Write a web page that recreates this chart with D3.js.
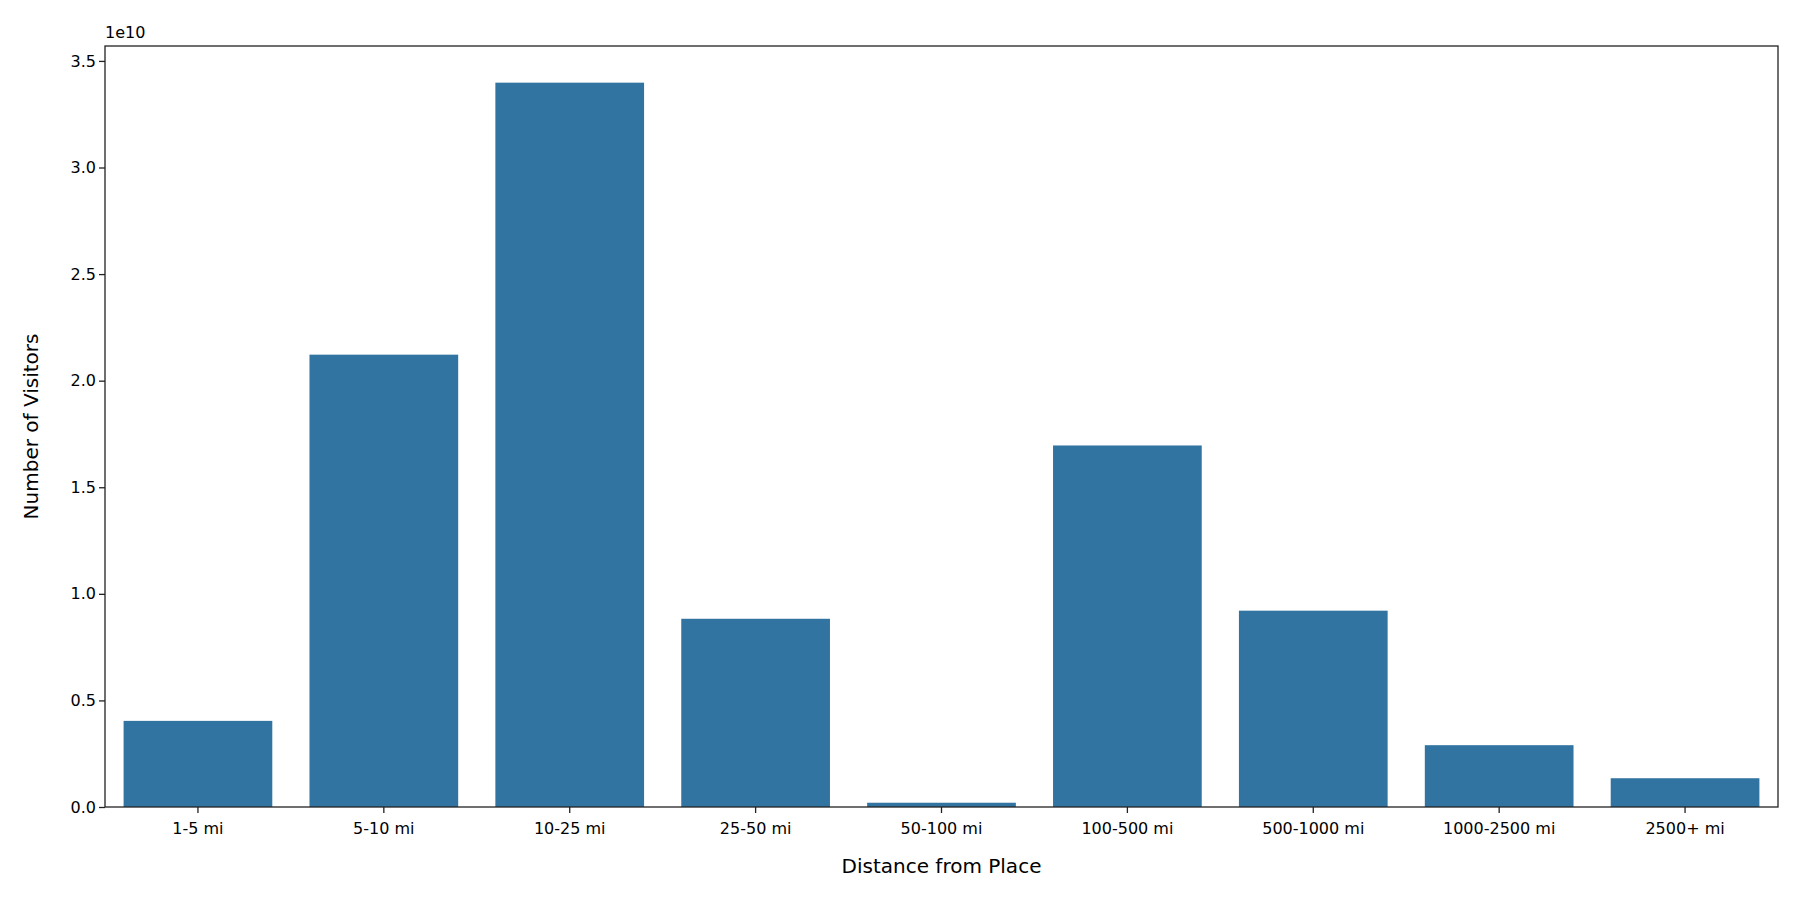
<!DOCTYPE html>
<html><head><meta charset="utf-8">
<script src="https://cdn.jsdelivr.net/npm/d3@7"></script>
<style>body{margin:0;background:#fff}text{font-family:"DejaVu Sans",sans-serif}</style>
</head><body>
<svg id="chart" width="1800" height="900"></svg>
<script>
// values in units of 1e10
var categories = ['1-5 mi','5-10 mi','10-25 mi','25-50 mi','50-100 mi','100-500 mi','500-1000 mi','1000-2500 mi','2500+ mi']
var visitors = [0.404, 2.122, 3.398, 0.883, 0.02, 1.696, 0.921, 0.29, 0.135]
var yTicks = [0, 0.5, 1.0, 1.5, 2.0, 2.5, 3.0, 3.5]

var margin = {top:46, right:22, bottom:93, left:105}
var svg = d3.select('#chart')
var w = 1800 - margin.left - margin.right
var h = 900 - margin.top - margin.bottom
var g = svg.append('g').attr('transform','translate('+margin.left+','+margin.top+')')

var x = d3.scaleBand().domain(categories).range([0,w]).paddingInner(0.2).paddingOuter(0.1)
var y = d3.scaleLinear().domain([0,3.57]).range([h,0])

g.selectAll('rect.bar')
  .data(categories)
  .enter()
  .append('rect')
  .attr('class','bar')
  .attr('x',function(d){return x(d)})
  .attr('y',function(_,i){return y(visitors[i])})
  .attr('width',x.bandwidth())
  .attr('height',function(_,i){return h - y(visitors[i])})
  .style('fill','#3274a1')

var xa = g.append('g').attr('transform','translate(0,'+h+')')
  .call(d3.axisBottom(x).tickSize(6).tickSizeOuter(0))
var ya = g.append('g').call(d3.axisLeft(y).tickValues(yTicks).tickFormat(d3.format('.1f')).tickSize(6).tickSizeOuter(0))
;[xa,ya].forEach(function(a){
  a.selectAll('text').style('font-size','16px').attr('fill','#000')
  a.selectAll('line').attr('stroke','#222').attr('stroke-width',1.3)
  a.select('.domain').remove()
})
xa.selectAll('text').attr('dy','1.1em')

g.append('rect').attr('width',w).attr('height',h)
  .attr('fill','none').attr('stroke','#222').attr('stroke-width',1.3)

g.append('text').attr('x',0).attr('y',-8).style('font-size','16px').text('1e10')
g.append('text').attr('x',w/2).attr('y',h+66).attr('text-anchor','middle')
  .style('font-size','20px').text('Distance from Place')
g.append('text').attr('transform','rotate(-90)').attr('x',-h/2).attr('y',-67)
  .attr('text-anchor','middle').style('font-size','20px').text('Number of Visitors')
</script>
</body></html>
